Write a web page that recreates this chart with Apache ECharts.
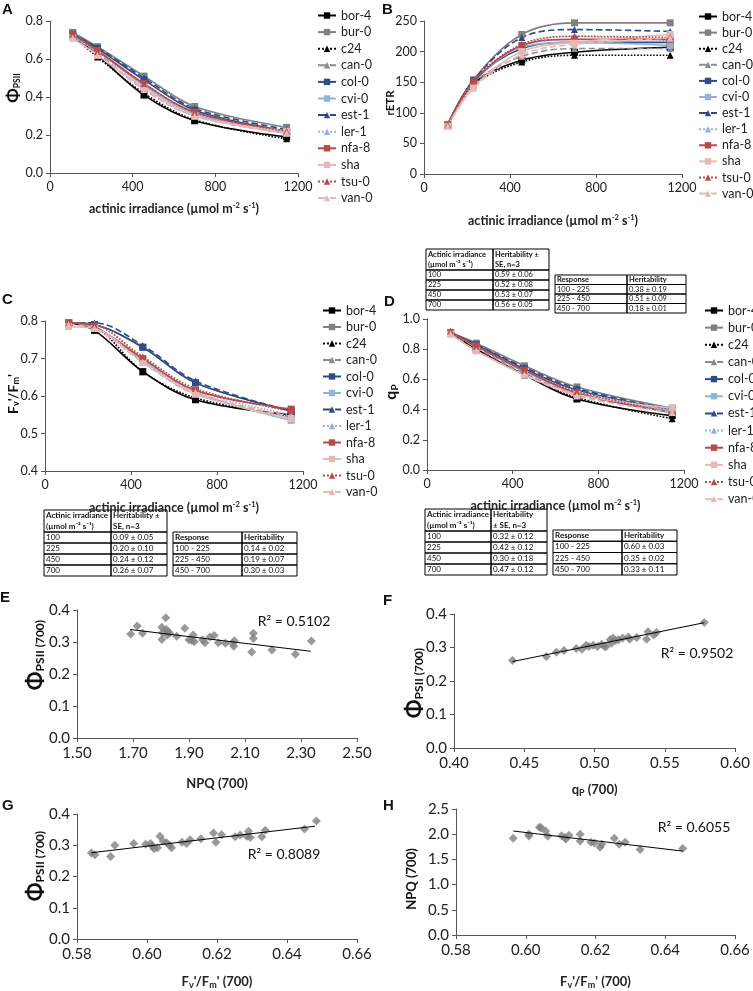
<!DOCTYPE html>
<html><head><meta charset="utf-8">
<script src="https://cdn.jsdelivr.net/npm/echarts@6/dist/echarts.min.js"></script>
<style>html,body{margin:0;padding:0;background:#fff}#c{width:753px;height:991px}</style>
</head><body><div id="c"></div>
<script>
// ---------------- DATA ----------------
const irradiance = [110, 230, 455, 700, 1145];
const accessions = ['bor-4','bur-0','c24','can-0','col-0','cvi-0','est-1','ler-1','nfa-8','sha','tsu-0','van-0'];

// Panel A: PhiPSII (rows follow accessions order)
const phiPSII = [
  [0.72, 0.62, 0.41, 0.275, 0.19],
  [0.74, 0.665, 0.51, 0.35, 0.24],
  [0.72, 0.61, 0.42, 0.28, 0.18],
  [0.72, 0.63, 0.44, 0.30, 0.21],
  [0.73, 0.655, 0.49, 0.33, 0.22],
  [0.72, 0.64, 0.46, 0.31, 0.21],
  [0.73, 0.66, 0.50, 0.34, 0.23],
  [0.72, 0.64, 0.46, 0.31, 0.22],
  [0.73, 0.645, 0.47, 0.32, 0.22],
  [0.71, 0.62, 0.45, 0.30, 0.22],
  [0.73, 0.64, 0.47, 0.32, 0.22],
  [0.71, 0.62, 0.44, 0.30, 0.21]
];
// Panel B: rETR
const rETR = [
  [80, 148, 186, 199, 207],
  [80, 154, 228, 247, 247],
  [80, 145, 183, 194, 194],
  [80, 148, 192, 205, 205],
  [80, 152, 205, 215, 215],
  [80, 150, 207, 215, 210],
  [80, 153, 223, 236, 233],
  [80, 150, 210, 225, 218],
  [80, 150, 210, 220, 220],
  [78, 142, 200, 215, 228],
  [80, 152, 212, 225, 223],
  [78, 140, 195, 212, 222]
];
// Panel C: Fv'/Fm'
const fvfm = [
  [0.795, 0.775, 0.665, 0.59, 0.55],
  [0.795, 0.79, 0.73, 0.635, 0.56],
  [0.795, 0.785, 0.665, 0.595, 0.545],
  [0.795, 0.785, 0.69, 0.605, 0.545],
  [0.795, 0.79, 0.73, 0.635, 0.56],
  [0.795, 0.785, 0.695, 0.61, 0.535],
  [0.795, 0.795, 0.735, 0.64, 0.56],
  [0.795, 0.79, 0.70, 0.615, 0.55],
  [0.795, 0.785, 0.70, 0.615, 0.565],
  [0.785, 0.78, 0.69, 0.605, 0.54],
  [0.795, 0.79, 0.705, 0.62, 0.56],
  [0.79, 0.78, 0.69, 0.61, 0.545]
];
// Panel D: qP
const qP = [
  [0.91, 0.80, 0.63, 0.47, 0.36],
  [0.91, 0.84, 0.69, 0.55, 0.41],
  [0.91, 0.80, 0.63, 0.48, 0.34],
  [0.91, 0.81, 0.64, 0.50, 0.38],
  [0.91, 0.83, 0.67, 0.53, 0.40],
  [0.91, 0.82, 0.65, 0.51, 0.39],
  [0.91, 0.83, 0.68, 0.54, 0.40],
  [0.91, 0.82, 0.66, 0.52, 0.40],
  [0.91, 0.82, 0.66, 0.51, 0.38],
  [0.90, 0.79, 0.63, 0.50, 0.41],
  [0.92, 0.82, 0.66, 0.52, 0.38],
  [0.90, 0.79, 0.63, 0.49, 0.38]
];

// Scatter panels
const scatterE = [[1.692,0.325],[1.715,0.350],[1.734,0.327],[1.817,0.376],[1.803,0.346],[1.806,0.329],[1.803,0.308],[1.819,0.339],[1.825,0.332],[1.831,0.327],[1.822,0.322],[1.856,0.318],[1.885,0.343],[1.900,0.307],[1.910,0.305],[1.915,0.322],[1.919,0.301],[1.949,0.306],[1.957,0.298],[1.975,0.316],[1.990,0.320],[2.005,0.298],[2.030,0.296],[2.056,0.296],[2.062,0.304],[2.060,0.287],[2.130,0.327],[2.130,0.311],[2.124,0.269],[2.196,0.275],[2.280,0.262],[2.337,0.303]];
const trendE = [[1.69,0.339],[2.335,0.271]];
const scatterF = [[0.4416,0.261],[0.4657,0.273],[0.4728,0.286],[0.4782,0.291],[0.487,0.297],[0.491,0.295],[0.494,0.307],[0.496,0.303],[0.499,0.307],[0.502,0.303],[0.505,0.310],[0.507,0.304],[0.508,0.302],[0.511,0.323],[0.512,0.313],[0.513,0.328],[0.515,0.321],[0.517,0.323],[0.520,0.328],[0.524,0.331],[0.525,0.325],[0.530,0.330],[0.537,0.325],[0.538,0.347],[0.542,0.337],[0.544,0.345],[0.578,0.375]];
const trendF = [[0.4416,0.258],[0.578,0.374]];
const scatterG = [[0.5841,0.275],[0.5851,0.270],[0.5896,0.264],[0.5908,0.300],[0.5962,0.306],[0.5996,0.303],[0.601,0.306],[0.6015,0.298],[0.602,0.289],[0.603,0.292],[0.6037,0.329],[0.6046,0.313],[0.6056,0.308],[0.6065,0.300],[0.607,0.292],[0.610,0.310],[0.6113,0.306],[0.6123,0.318],[0.6154,0.321],[0.619,0.339],[0.6197,0.310],[0.6213,0.334],[0.6252,0.327],[0.6266,0.333],[0.6285,0.329],[0.629,0.345],[0.6295,0.325],[0.6328,0.327],[0.6338,0.348],[0.645,0.352],[0.6484,0.378]];
const trendG = [[0.5841,0.276],[0.648,0.361]];
const scatterH = [[0.5964,1.918],[0.6009,2.0],[0.6009,1.962],[0.6039,2.139],[0.6044,2.127],[0.6057,2.063],[0.6063,1.962],[0.6103,1.968],[0.6113,1.93],[0.6115,1.905],[0.6124,1.98],[0.6156,2.0],[0.6156,1.867],[0.6187,1.842],[0.6197,1.823],[0.6213,1.74],[0.6218,1.80],[0.6254,1.918],[0.6268,1.80],[0.6285,1.842],[0.6328,1.696],[0.645,1.715]];
const trendH = [[0.5964,2.063],[0.645,1.665]];
const r2Labels = ['R² = 0.5102','R² = 0.9502','R² = 0.8089','R² = 0.6055'];

// Tables
const tableB1 = [['Actinic irradiance\n(µmol m⁻² s⁻¹)','Heritability ±\nSE, n=3'],['100','0.59 ± 0.06'],['225','0.52 ± 0.08'],['450','0.53 ± 0.07'],['700','0.56 ± 0.05']];
const tableB2 = [['Response','Heritability'],['100 - 225','0.38 ± 0.19'],['225 - 450','0.51 ± 0.09'],['450 - 700','0.18 ± 0.01']];
const tableC1 = [['Actinic irradiance\n(µmol m⁻² s⁻¹)','Heritability ±\nSE, n=3'],['100','0.09 ± 0.05'],['225','0.20 ± 0.10'],['450','0.24 ± 0.12'],['700','0.26 ± 0.07']];
const tableC2 = [['Response','Heritability'],['100 - 225','0.14 ± 0.02'],['225 - 450','0.19 ± 0.07'],['450 - 700','0.30 ± 0.03']];
const tableD1 = [['Actinic irradiance\n(µmol m⁻² s⁻¹)','Heritability\n± SE, n=3'],['100','0.32 ± 0.12'],['225','0.42 ± 0.12'],['450','0.30 ± 0.18'],['700','0.47 ± 0.12']];
const tableD2 = [['Response','Heritability'],['100 - 225','0.60 ± 0.03'],['225 - 450','0.35 ± 0.02'],['450 - 700','0.33 ± 0.11']];

// ---------------- STYLE ----------------
const FONT = 'Lato, "Open Sans", sans-serif';
const styles = [
 {c:'#000000', t:'solid', s:'rect'},
 {c:'#808080', t:'solid', s:'rect'},
 {c:'#000000', t:'dotted', s:'triangle'},
 {c:'#8c8c8c', t:'dashed', s:'triangle'},
 {c:'#2E4B86', t:'solid', s:'rect'},
 {c:'#95B3D7', t:'solid', s:'rect'},
 {c:'#2E4B86', t:'dashed', s:'triangle'},
 {c:'#95B3D7', t:'dotted', s:'triangle'},
 {c:'#B84A48', t:'solid', s:'rect'},
 {c:'#E6B9B8', t:'solid', s:'rect'},
 {c:'#B84A48', t:'dotted', s:'triangle'},
 {c:'#E6B9B8', t:'dashed', s:'triangle'}
];

const grids = [
  {left:50, top:21, width:248, height:152},
  {left:424, top:21, width:258, height:153},
  {left:45, top:321, width:258, height:150},
  {left:427, top:319, width:257, height:151},
  {left:77, top:610, width:280, height:128},
  {left:454, top:614, width:282, height:134},
  {left:77, top:814, width:280, height:128},
  {left:456, top:809, width:279, height:132}
];

const axisLine = {show:true, lineStyle:{color:'#555', width:1}};
const axisTick = {show:true, length:4, lineStyle:{color:'#555'}};
const supRich = {
  n:{fontSize:12.5, fontWeight:'bold', fontFamily:FONT, color:'#222'},
  sup:{fontSize:7.5, fontWeight:'bold', fontFamily:FONT, color:'#222', verticalAlign:'top', padding:[0,0,6,0]},
  sub:{fontSize:9, fontWeight:'bold', fontFamily:FONT, color:'#222', padding:[6,0,0,0]}
};
const irrName = '{n|actinic irradiance (µmol m}{sup|-2}{n| s}{sup|-1}{n|)}';

function xLine(i, gap){
  return {gridIndex:i, type:'value', min:0, max:1200, interval:400,
    axisLine, axisTick, splitLine:{show:false},
    axisLabel:{fontSize:12.5, color:'#222', fontFamily:FONT, margin:7, formatter:v=>String(Math.round(v))},
    name:irrName, nameLocation:'middle', nameGap:gap, nameTextStyle:{rich:supRich}};
}
function yAx(i, min, max, interval, dec, fs){
  return {gridIndex:i, type:'value', min, max, interval,
    axisLine, axisTick, splitLine:{show:false},
    axisLabel:{fontSize:fs, color:'#222', fontFamily:FONT, margin:7,
      formatter:v=>dec>=0 ? v.toFixed(dec) : String(Math.round(v))}};
}
function xSc(i, min, max, interval, name, gap){
  return {gridIndex:i, type:'value', min, max, interval,
    axisLine, axisTick, splitLine:{show:false},
    axisLabel:{fontSize:15, color:'#222', fontFamily:FONT, margin:8, formatter:v=>v.toFixed(2)},
    name, nameLocation:'middle', nameGap:gap,
    nameTextStyle:{rich:{n:{fontSize:13, fontWeight:'bold', fontFamily:FONT, color:'#222'},
      sub:{fontSize:9, fontWeight:'bold', fontFamily:FONT, color:'#222', padding:[7,0,0,0]}}}};
}

const xAxis = [
  xLine(0, 29), xLine(1, 40), xLine(2, 30), xLine(3, 29),
  xSc(4, 1.5, 2.5, 0.2, '{n|NPQ (700)}', 39),
  xSc(5, 0.4, 0.6, 0.05, '{n|q}{sub|P}{n| (700)}', 34),
  xSc(6, 0.58, 0.66, 0.02, "{n|F}{sub|v}{n|'/F}{sub|m}{n|' (700)}", 35),
  xSc(7, 0.58, 0.66, 0.02, "{n|F}{sub|v}{n|'/F}{sub|m}{n|' (700)}", 39)
];
const yAxis = [
  yAx(0, 0, 0.8, 0.2, 1, 12.5),
  yAx(1, 0, 250, 50, -1, 12.5),
  yAx(2, 0.4, 0.8, 0.1, 1, 12.5),
  yAx(3, 0, 1.0, 0.2, 1, 12.5),
  yAx(4, 0, 0.4, 0.1, 1, 15),
  yAx(5, 0, 0.4, 0.1, 1, 15),
  yAx(6, 0, 0.4, 0.1, 1, 15),
  yAx(7, 0, 2.5, 0.5, 1, 15)
];

const series = [];
[phiPSII, rETR, fvfm, qP].forEach((panel, p) => {
  accessions.forEach((name, j) => {
    const st = styles[j];
    series.push({type:'line', name, xAxisIndex:p, yAxisIndex:p,
      data: irradiance.map((x,k)=>[x, panel[j][k]]),
      smooth:0.35, symbol:st.s, symbolSize:7, showSymbol:true,
      lineStyle:{color:st.c, width:1.6, type:st.t},
      itemStyle:{color:st.c}, emphasis:{disabled:true}});
  });
});
[[scatterE,trendE],[scatterF,trendF],[scatterG,trendG],[scatterH,trendH]].forEach((pair, k) => {
  const i = k + 4;
  series.push({type:'scatter', xAxisIndex:i, yAxisIndex:i, data:pair[0], symbol:'diamond',
    symbolSize:9, itemStyle:{color:'#7f7f7f'}});
  series.push({type:'line', xAxisIndex:i, yAxisIndex:i, data:pair[1], symbol:'none',
    lineStyle:{color:'#000', width:1}, silent:true});
});

function legend(left, top, gap){
  return {data:accessions, orient:'vertical', left, top, padding:0, itemWidth:18, itemHeight:8, itemGap:gap,
    selectedMode:false, textStyle:{fontSize:12.5, fontFamily:FONT, color:'#222', lineHeight:12}};
}

// ---------------- GRAPHICS ----------------
const g = [];
function txt(x, y, text, font, extra){
  g.push({type:'text', x, y, style:Object.assign({text, font, fill:'#111'}, extra||{})});
}
function rotLabel(x, y, text, rich){
  g.push({type:'text', x, y, rotation:Math.PI/2,
    style:{text, rich, align:'center', verticalAlign:'middle', fill:'#111'}});
}
const LET = 'bold 15px "Liberation Sans", Arial, sans-serif';
[['A',2,2],['B',382,2],['C',2,292],['D',384,294],['E',0,590],['F',383,593],['G',2,798],['H',383,798]].forEach(a=>txt(a[1],a[2],a[0],LET));

const big = (fs)=>({fontSize:fs, fontWeight:'bold', fontFamily:FONT, fill:'#111'});
const small = (fs, pad)=>({fontSize:fs, fontWeight:'bold', fontFamily:FONT, fill:'#111', padding:[pad,0,0,0]});
rotLabel(14, 88, '{a|Φ}{b|PSII}', {a:big(17), b:small(8.5,7)});
rotLabel(390, 103, '{a|rETR}', {a:big(11.5)});
rotLabel(13, 394, "{a|F}{b|v}{a|'/F}{b|m}{a|'}", {a:big(14), b:small(9,6)});
rotLabel(391, 392, '{a|q}{b|P}', {a:big(16), b:small(10,7)});
rotLabel(36, 655, '{a|Φ}{b|PSII (700)}', {a:big(22), b:small(12,8)});
rotLabel(415, 683, '{a|Φ}{b|PSII (700)}', {a:big(22), b:small(12,8)});
rotLabel(36, 866, '{a|Φ}{b|PSII (700)}', {a:big(22), b:small(12,8)});
rotLabel(412, 879, '{a|NPQ (700)}', {a:big(13)});

const R2F = '14px ' + FONT;
[[294,621],[697,653],[284,854],[694,827]].forEach((p,i)=>txt(p[0],p[1],r2Labels[i],R2F,{align:'center',verticalAlign:'middle'}));

function table(x0, y0, colW, rowH, rows, fs){
  let y = y0;
  rows.forEach((row, r) => {
    let x = x0;
    row.forEach((cell, c) => {
      g.push({type:'rect', shape:{x, y, width:colW[c], height:rowH[r]},
        style:{fill:'none', stroke:'#000', lineWidth:1}});
      g.push({type:'text', x:x+2, y:y+rowH[r]/2,
        style:{text:cell, font:(r===0?'bold ':'')+fs+'px '+FONT, fill:'#111',
          verticalAlign:'middle', lineHeight:fs+2.5}});
      x += colW[c];
    });
    y += rowH[r];
  });
}
table(426, 249, [67,56], [21,10,10,10,10], tableB1, 7.5);
table(555, 275, [72,59], [9.5,9.5,9.5,9.5], tableB2, 7.5);
table(44, 510, [67,56], [22,11,11,11,11], tableC1, 8);
table(173, 532, [69,55], [11,11,11,11], tableC2, 8);
table(425, 509, [66,56], [22,11,11,11,11], tableD1, 8);
table(553, 530, [69,55], [11.25,11.25,11.25,11.25], tableD2, 8);

const chart = echarts.init(document.getElementById('c'), null, {renderer:'canvas'});
chart.setOption({
  animation:false,
  backgroundColor:'#fff',
  grid:grids,
  xAxis, yAxis, series,
  legend:[legend(317,9,3.6), legend(698,10,3.1), legend(322,304,3.5), legend(704,304,4.15)],
  graphic:g
});
</script></body></html>
